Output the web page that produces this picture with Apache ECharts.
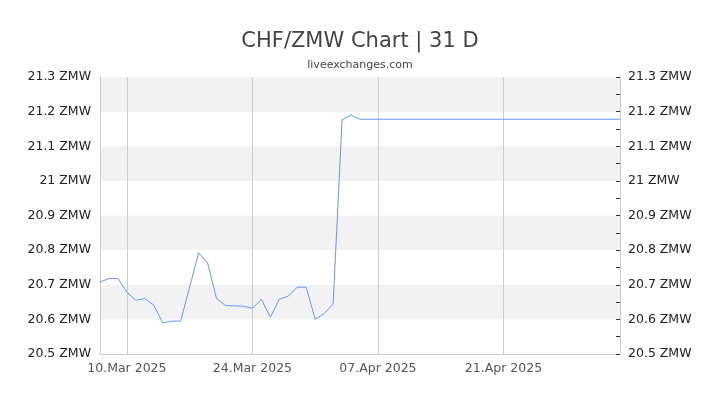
<!DOCTYPE html>
<html>
<head>
<meta charset="utf-8">
<title>CHF/ZMW Chart</title>
<script src="https://cdn.jsdelivr.net/npm/echarts@6/dist/echarts.min.js"></script>
<style>
html, body { margin: 0; padding: 0; background: #fff; }
#main { width: 720px; height: 405px; }
</style>
</head>
<body>
<div id="main"></div>
<script>
// readings taken off the reference chart
var dates = ['2025-03-07','2025-03-08','2025-03-09','2025-03-10','2025-03-11','2025-03-12','2025-03-13',
             '2025-03-14','2025-03-15','2025-03-16','2025-03-18','2025-03-19','2025-03-20','2025-03-21',
             '2025-03-23','2025-03-24','2025-03-25','2025-03-26','2025-03-27','2025-03-28','2025-03-29',
             '2025-03-30','2025-03-31','2025-04-01','2025-04-02','2025-04-03','2025-04-04','2025-04-05',
             '2025-05-04'];
var rates = [20.708, 20.718, 20.718, 20.679, 20.655, 20.660, 20.641,
             20.590, 20.595, 20.595, 20.792, 20.763, 20.660, 20.640,
             20.638, 20.632, 20.658, 20.606, 20.658, 20.667, 20.693,
             20.693, 20.600, 20.617, 20.644, 21.176, 21.190, 21.178,
             21.178];
var tickDates = ['2025-03-10', '2025-03-24', '2025-04-07', '2025-04-21'];
var axisStart = '2025-03-07';
var axisEnd = '2025-05-04';
var months = ['Jan','Feb','Mar','Apr','May','Jun','Jul','Aug','Sep','Oct','Nov','Dec'];

function ts(s) {
    var p = s.split('-');
    return Date.UTC(+p[0], +p[1] - 1, +p[2]);
}

var seriesData = dates.map(function (d, i) { return [ts(d), rates[i]]; });
var tickValues = tickDates.map(ts);

var chart = echarts.init(document.getElementById('main'));
var font = 'DejaVu Sans';

var yLabel = {
    fontFamily: font,
    fontSize: 12.5,
    color: '#222',
    formatter: function (v) { return (+v.toFixed(1)) + ' ZMW'; }
};

option = {
    animation: false,
    title: {
        text: 'CHF/ZMW Chart | 31 D',
        subtext: 'liveexchanges.com',
        left: 'center',
        top: 26,
        itemGap: 8,
        textStyle: { fontFamily: font, fontSize: 21, fontWeight: 'normal', color: '#444' },
        subtextStyle: { fontFamily: font, fontSize: 11, color: '#444' }
    },
    grid: { left: 100, right: 100, top: 77, bottom: 51 },
    xAxis: {
        type: 'value',
        min: ts(axisStart),
        max: ts(axisEnd),
        axisLine: { lineStyle: { color: '#ccc' } },
        axisTick: { show: false, customValues: tickValues },
        axisLabel: {
            customValues: tickValues,
            fontFamily: font,
            fontSize: 12.5,
            color: '#555',
            margin: 8,
            formatter: function (v) {
                var d = new Date(v);
                var dd = d.getUTCDate();
                return (dd < 10 ? '0' + dd : dd) + '.' + months[d.getUTCMonth()] + ' ' + d.getUTCFullYear();
            }
        },
        splitLine: { show: true, lineStyle: { color: '#ccc' } }
    },
    yAxis: [
        {
            type: 'value',
            min: 20.5,
            max: 21.3,
            interval: 0.1,
            position: 'left',
            axisLine: { show: true, lineStyle: { color: '#ccc' } },
            axisTick: { show: false },
            axisLabel: Object.assign({ margin: 9 }, yLabel),
            splitLine: { show: false },
            splitArea: { show: true, areaStyle: { color: ['#ffffff', '#f2f2f2'] } }
        },
        {
            type: 'value',
            min: 20.5,
            max: 21.3,
            interval: 0.1,
            position: 'right',
            axisLine: { show: true, lineStyle: { color: '#ccc' } },
            axisTick: { show: true, inside: true, length: 4, lineStyle: { color: '#333' } },
            minorTick: { show: true, splitNumber: 2, length: 4, lineStyle: { color: '#333' } },
            axisLabel: Object.assign({ margin: 8 }, yLabel),
            splitLine: { show: false }
        }
    ],
    series: [
        {
            type: 'line',
            data: seriesData,
            showSymbol: false,
            symbol: 'none',
            lineStyle: { color: '#6697ee', width: 1 }
        }
    ]
};

chart.setOption(option);
</script>
</body>
</html>
